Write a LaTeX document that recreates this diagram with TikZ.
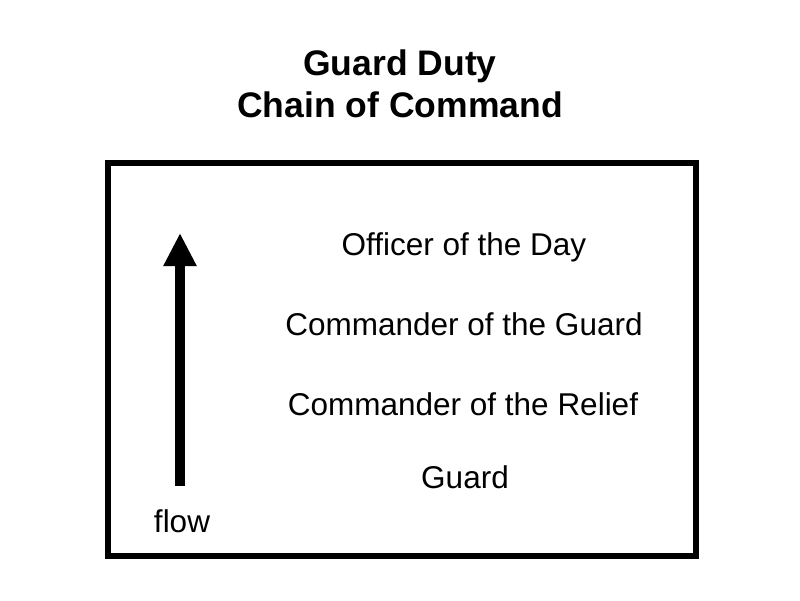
\documentclass[tikz,border=0pt]{standalone}
\usepackage{fontspec}
\setmainfont{Liberation Sans}
\usetikzlibrary{arrows.meta,positioning}

\begin{document}
\begin{tikzpicture}[x=1pt,y=-1pt,
    rank/.style={anchor=base, inner sep=0pt, font=\fontsize{31.5}{37}\selectfont},
    heading/.style={anchor=base, inner sep=0pt, align=center, font=\fontsize{35.5}{42}\selectfont\bfseries},
    flowarrow/.style={line width=10pt, -{Triangle[width=31pt,length=33pt]}}]
    \useasboundingbox (0,0) rectangle (800,600);

    % Title
    \node[heading] (title) at (400,117) {Guard Duty\\Chain of Command};

    % Frame
    \draw[line width=6pt] (108,163) rectangle (696,556);

    % Ranks, top down
    \node[rank] (officer) at (464,255) {Officer of the Day};
    \node[rank] (cotg) at (464,335) {Commander of the Guard};
    \node[rank] (cotr) at (463,415) {Commander of the Relief};
    \node[rank] (guard) at (465,488) {Guard};

    % Flow arrow
    \coordinate (flowbot) at (180,486);
    \coordinate (flowtop) at (180,233);
    \draw[flowarrow] (flowbot) -- (flowtop);
    \node[rank] (flow) at (182,532) {flow};
\end{tikzpicture}
\end{document}
